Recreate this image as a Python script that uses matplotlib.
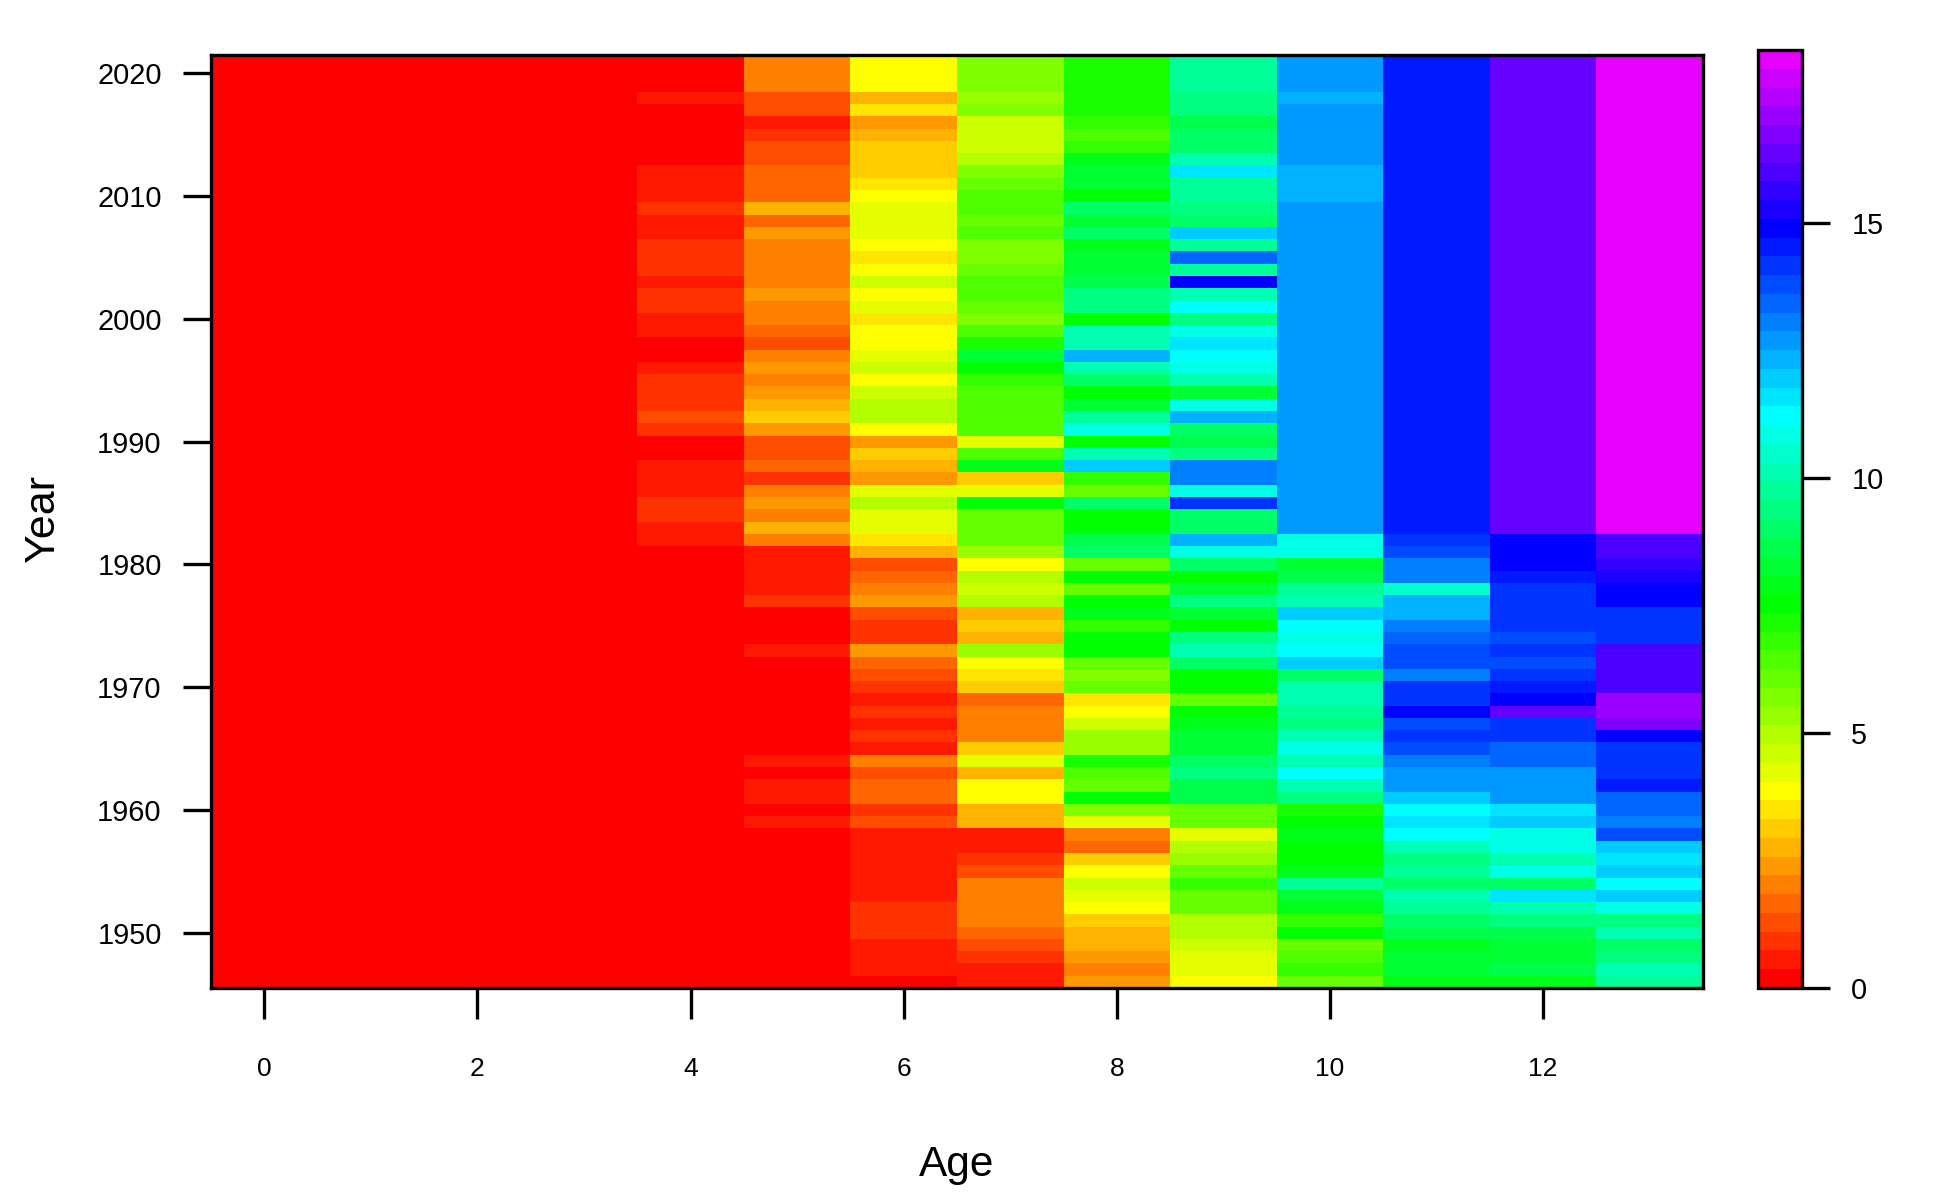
import numpy as np
import matplotlib
matplotlib.use("Agg")
import matplotlib.pyplot as plt
from matplotlib.colors import ListedColormap, BoundaryNorm, hsv_to_rgb

plt.rcParams["font.family"] = ["Liberation Sans", "DejaVu Sans"]

# values, newest year first
years = list(range(2021, 1945, -1))
ages = list(range(14))

age_0 = [0.0] * 76
age_1 = [0.0] * 76
age_2 = [0.1] * 76
age_3 = [0.2] * 76
age_4 = [0.2, 0.2, 0.2, 0.5, 0.2, 0.2, 0.2, 0.2, 0.2, 0.5,
         0.5, 0.5, 0.9, 0.5, 0.5, 0.9, 0.9, 0.9, 0.5, 0.9,
         0.9, 0.5, 0.5, 0.2, 0.2, 0.5, 0.9, 0.9, 0.9, 1.3,
         0.9, 0.2, 0.2, 0.5, 0.5, 0.5, 0.9, 0.9, 0.5, 0.5] + [0.2] * 36
age_5 = [2.0, 2.0, 2.0, 1.3, 1.3, 0.5, 0.9, 1.3, 1.3, 1.7,
         1.7, 1.7, 2.8, 1.7, 2.4, 2.0, 2.0, 2.0, 2.0, 2.4,
         2.0, 2.0, 1.7, 1.3, 2.0, 2.4, 2.0, 2.4, 2.8, 3.1,
         2.4, 1.3, 1.3, 1.7, 0.9, 2.0, 2.4, 2.0, 2.8, 2.0,
         0.5, 0.5, 0.5, 0.5, 0.9, 0.2, 0.2, 0.2, 0.5, 0.2,
         0.2, 0.2, 0.2, 0.2, 0.2, 0.2, 0.2, 0.5, 0.2, 0.5,
         0.5, 0.2, 0.5, 0.2, 0.2, 0.2, 0.2, 0.2, 0.2, 0.2,
         0.2, 0.2, 0.2, 0.2, 0.2, 0.2]
age_6 = [3.9, 3.9, 3.9, 2.8, 3.5, 2.4, 2.8, 3.1, 3.1, 3.1,
         3.5, 3.9, 4.2, 4.2, 4.2, 3.9, 3.5, 3.9, 4.6, 3.9,
         4.2, 3.5, 3.9, 3.9, 4.2, 4.6, 3.9, 4.6, 5.0, 5.0,
         3.9, 2.4, 3.1, 2.8, 2.4, 4.2, 5.0, 4.2, 4.2, 3.5,
         2.8, 1.3, 1.7, 2.0, 2.4, 1.3, 0.9, 0.9, 2.4, 1.7,
         1.3, 0.9, 0.5, 0.9, 0.5, 0.9, 0.5, 2.0, 1.3, 1.7,
         1.7, 0.9, 1.3, 0.5, 0.5, 0.5, 0.5, 0.5, 0.5, 0.9,
         0.9, 0.9, 0.5, 0.5, 0.5, 0.2]
age_7 = [5.7, 5.7, 5.7, 5.3, 5.7, 4.6, 4.6, 4.6, 5.0, 5.7,
         6.1, 6.4, 6.4, 6.1, 6.4, 5.7, 5.7, 6.1, 6.4, 6.4,
         6.1, 5.7, 6.4, 7.2, 8.3, 7.5, 6.8, 6.4, 6.4, 6.4,
         6.4, 4.2, 6.4, 7.9, 3.1, 4.2, 7.5, 6.1, 6.1, 6.1,
         5.3, 3.9, 5.0, 4.6, 5.0, 2.8, 3.1, 2.8, 5.3, 3.9,
         3.5, 3.1, 1.7, 2.0, 2.0, 2.0, 3.1, 4.2, 2.8, 3.9,
         3.9, 2.8, 2.8, 0.5, 0.5, 0.9, 1.3, 2.0, 2.0, 2.0,
         2.0, 1.7, 1.3, 0.9, 0.5, 0.5]
age_8 = [7.2, 7.2, 7.2, 7.2, 7.2, 6.8, 6.4, 6.8, 7.9, 8.3,
         8.3, 7.5, 9.0, 8.3, 9.0, 7.9, 8.3, 8.3, 8.6, 9.4,
         9.4, 7.5, 10.1, 10.1, 12.3, 10.1, 9.0, 7.5, 8.3, 9.8,
         10.9, 7.5, 10.1, 12.0, 6.8, 6.1, 9.0, 7.5, 7.5, 8.6,
         9.0, 6.1, 7.5, 6.1, 7.5, 7.9, 6.8, 7.5, 7.5, 6.1,
         5.7, 6.1, 3.5, 3.9, 4.6, 5.3, 5.3, 7.2, 6.4, 6.1,
         7.5, 5.7, 4.2, 2.0, 1.7, 3.1, 3.9, 4.6, 4.2, 3.9,
         3.1, 2.8, 2.8, 2.4, 2.0, 2.4]
age_9 = [9.8, 9.8, 9.8, 9.4, 9.4, 8.6, 9.0, 9.0, 10.1, 11.6,
         9.8, 9.8, 9.4, 9.0, 12.0, 9.8, 13.4, 9.8, 14.9, 10.1,
         11.2, 9.4, 10.9, 11.6, 11.2, 10.9, 10.1, 8.3, 10.9, 12.3,
         9.0, 8.6, 9.4, 13.1, 13.1, 10.9, 14.2, 9.0, 9.0, 12.3,
         10.9, 9.0, 7.5, 8.3, 9.4, 8.3, 7.5, 9.4, 10.1, 9.0,
         7.5, 7.5, 6.1, 7.5, 7.9, 8.3, 8.3, 9.0, 9.4, 8.6,
         8.6, 6.1, 6.1, 4.2, 5.0, 5.3, 6.1, 6.8, 6.1, 6.1,
         5.0, 5.0, 4.6, 4.2, 4.2, 3.9]
age_10 = [12.7, 12.7, 12.7, 12.3, 12.7, 12.7, 12.7, 12.7, 12.7, 12.3,
          12.3, 12.3, 12.7, 12.7, 12.7, 12.7, 12.7, 12.7, 12.7, 12.7,
          12.7, 12.7, 12.7, 12.7, 12.7, 12.7, 12.7, 12.7, 12.7, 12.7,
          12.7, 12.7, 12.7, 12.7, 12.7, 12.7, 12.7, 12.7, 12.7, 10.9,
          10.9, 8.3, 8.6, 9.8, 10.1, 12.0, 11.2, 10.9, 11.2, 12.0,
          9.0, 10.1, 10.1, 9.8, 9.4, 10.1, 10.9, 10.1, 11.2, 10.1,
          9.4, 7.2, 7.5, 7.9, 7.5, 7.5, 7.9, 9.8, 8.3, 7.9,
          6.8, 7.5, 6.1, 6.4, 6.8, 6.1]
age_11 = [14.5] * 39 + [14.2,
          13.8, 13.1, 13.1, 10.5, 12.3, 12.3, 13.1, 13.4, 13.8, 13.8,
          13.1, 14.2, 14.2, 14.9, 13.8, 14.2, 13.8, 13.1, 12.7, 12.7,
          12.0, 11.2, 11.6, 11.2, 10.1, 9.4, 9.8, 9.0, 10.1, 9.8,
          9.0, 8.6, 7.9, 8.3, 8.3, 7.9]
age_12 = [16.4] * 39 + [14.9,
          14.9, 14.9, 14.5, 14.2, 14.2, 14.2, 14.2, 13.8, 14.2, 13.8,
          14.2, 14.5, 14.9, 16.4, 14.2, 14.2, 13.4, 13.4, 12.7, 12.7,
          12.7, 11.6, 12.0, 10.9, 10.9, 10.1, 10.9, 9.0, 11.6, 10.1,
          9.4, 8.6, 8.3, 8.3, 8.6, 7.9]
age_13 = [18.2] * 39 + [16.0,
          16.0, 15.6, 15.3, 14.9, 14.9, 14.2, 14.2, 14.2, 16.0, 16.0,
          16.0, 16.0, 17.1, 17.1, 16.7, 14.9, 14.2, 14.2, 14.2, 14.5,
          13.4, 13.4, 13.1, 13.8, 12.0, 11.6, 12.0, 11.2, 12.0, 10.9,
          9.4, 10.1, 9.0, 9.4, 10.1, 9.8]

x_ticks = [0, 2, 4, 6, 8, 10, 12]
y_ticks = [1950, 1960, 1970, 1980, 1990, 2000, 2010, 2020]
bar_ticks = [0, 5, 10, 15]

W, H = 1950, 1200
LW = 2.4

grid = np.array([age_0, age_1, age_2, age_3, age_4, age_5, age_6, age_7,
                 age_8, age_9, age_10, age_11, age_12, age_13]).T

# same look as R's rainbow(50, end=...): 50 hues, 6 degrees apart
n_levels = 50
hues = np.arange(n_levels) * 6 / 360
cmap = ListedColormap(hsv_to_rgb(np.column_stack([hues, np.ones(n_levels), np.ones(n_levels)])))
norm = BoundaryNorm(np.linspace(0, 18.4, n_levels + 1), n_levels)

def px_axes(left, top, right, bottom):
    return fig.add_axes([left / W, 1 - bottom / H, (right - left) / W, (bottom - top) / H])

fig = plt.figure(figsize=(W / 100, H / 100), dpi=100)
ax = px_axes(211, 55, 1703, 988)
cax = px_axes(1758, 50, 1802, 988)

mesh = ax.pcolormesh(ages, years, grid, cmap=cmap, norm=norm, shading="nearest")
ax.set_xlim(-0.5, 13.5)
ax.set_ylim(1945.5, 2021.5)
ax.set_xticks(x_ticks)
ax.set_yticks(y_ticks)
ax.tick_params(axis="x", length=22, width=LW, labelsize=19, pad=28)
ax.tick_params(axis="y", length=20, width=LW, labelsize=20.8, pad=15.5)
for s in ax.spines.values():
    s.set_linewidth(LW)

cb = fig.colorbar(mesh, cax=cax, spacing="proportional", ticks=bar_ticks, drawedges=False)
cb.ax.tick_params(length=20, width=LW, labelsize=20.8, pad=15.5)
cb.outline.set_linewidth(LW)
cb.ax.minorticks_off()

fig.text(957 / W, 1 - 1165 / H, "Age", fontsize=30.5, ha="center", va="center")
fig.text(43 / W, 1 - 519 / H, "Year", fontsize=31, ha="center", va="center", rotation=90)

fig.savefig("out.png", dpi=100, facecolor="white")
